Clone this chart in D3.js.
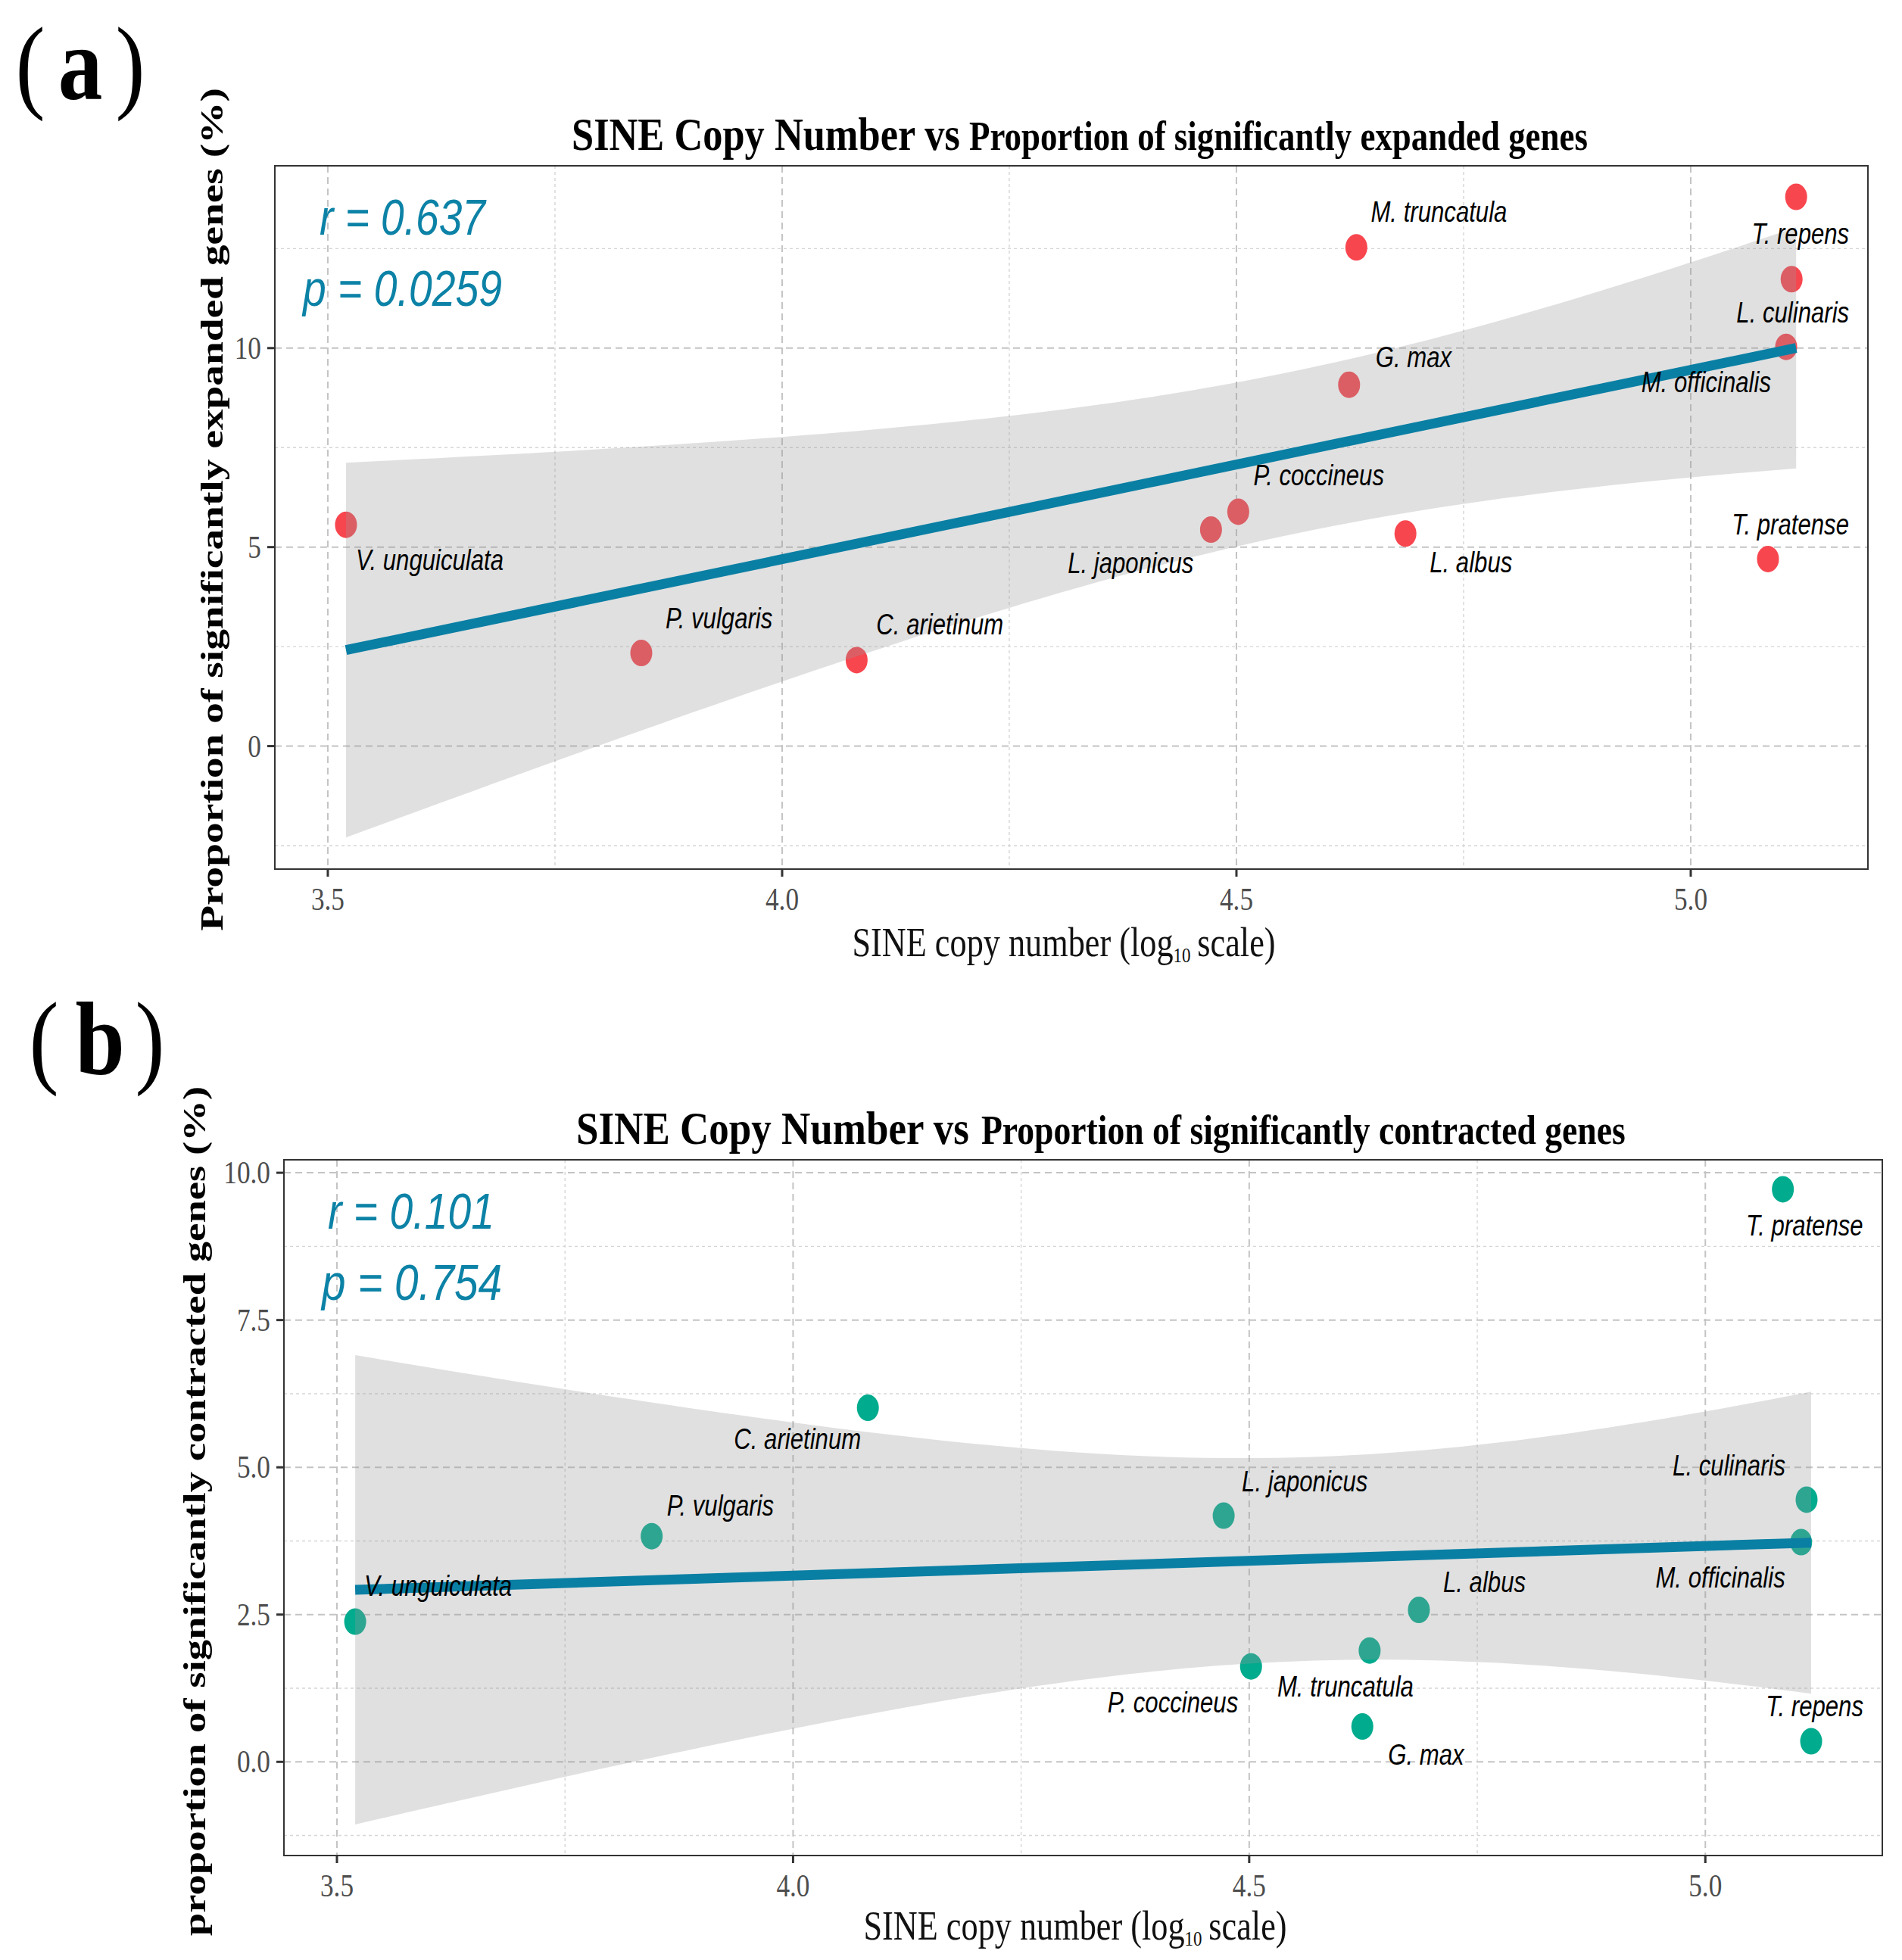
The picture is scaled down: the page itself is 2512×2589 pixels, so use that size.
<!DOCTYPE html>
<html><head><meta charset="utf-8">
<script src="https://cdn.jsdelivr.net/npm/d3@7"></script>
<style>body{margin:0;background:#fff}</style>
</head><body>
<svg id="chart" width="2512" height="2589" xmlns="http://www.w3.org/2000/svg"></svg>
<script>
// ---------------- data ----------------
const species = ["V. unguiculata","P. vulgaris","C. arietinum","L. japonicus","P. coccineus","G. max",
                 "M. truncatula","L. albus","T. pratense","M. officinalis","L. culinaris","T. repens"];
const sineLog10 = [3.520,3.845,4.082,4.472,4.502,4.624,4.632,4.686,5.085,5.105,5.111,5.116];
const expandedPct = [5.56,2.34,2.16,5.44,5.89,9.08,12.53,5.34,4.70,10.03,11.73,13.80];
const contractedPct = [2.38,3.83,6.01,4.18,1.62,0.60,1.89,2.58,9.72,3.73,4.45,0.35];
const xTicks = [3.5,4.0,4.5,5.0];
const xMinorTicks = [3.75,4.25,4.75];
const yTicksA = [0,5,10];
const yMinorA = [-2.5,2.5,7.5,12.5];
const yTicksB = [0,2.5,5,7.5,10];
const yMinorB = [-1.25,1.25,3.75,6.25,8.75];
const statsA = ["r = 0.637","p = 0.0259"];
const statsB = ["r = 0.101","p = 0.754"];
const tCrit = 2.228; // t(0.975, df = 10)

// ---------------- layout (label offsets in px relative to point) ----------------
const labelLayoutA = [
  ["start",13,59.5],["start",32,-33],["start",26,-34],["end",-23,57.5],["start",20,-35],["start",35,-23],
  ["start",19,-33.5],["start",32,51],["end",107,-32],["end",-20,60],["end",76,57],["end",70,62]];
const labelLayoutB = [
  ["start",12,-34],["start",20,-27],["end",-9,54.5],["start",24,-32],["end",-17,61],["start",34,50.5],
  ["start",-122,61],["start",32,-24],["end",106,61],["end",-21,60],["end",-28,-31.5],["end",69,-33]];

const svg = d3.select("#chart");
const SX = 0.82;
const SERIF = "'Liberation Serif','Times New Roman',serif";
const SANS = "'Liberation Sans',Arial,sans-serif";

function fit(xs, ys){
  const n = xs.length, mx = d3.mean(xs), my = d3.mean(ys);
  let sxx=0, sxy=0;
  xs.forEach((x,i)=>{sxx+=(x-mx)*(x-mx); sxy+=(x-mx)*(ys[i]-my);});
  const b = sxy/sxx, a = my - b*mx;
  let sse=0; xs.forEach((x,i)=>{const e=ys[i]-(a+b*x); sse+=e*e;});
  const s = Math.sqrt(sse/(n-2));
  return {a,b,pred:x=>a+b*x,se:x=>s*Math.sqrt(1/n+(x-mx)*(x-mx)/sxx)};
}

// place a text so that its advance width equals target (scaled horizontally)
function fitted(g, x, y, str, target, attrs, pre){
  const t = g.append("text").text(str);
  Object.entries(attrs).forEach(([k,v])=>t.attr(k,v));
  const nat = t.node().getComputedTextLength();
  const k = target/nat;
  t.attr("transform",`translate(${x},${y}) ${pre||""} scale(${k},1)`);
  return t;
}

function panel(cfg){
  const g = svg.append("g");
  const x = d3.scaleLinear().domain(cfg.xDom).range([cfg.left,cfg.right]);
  const y = d3.scaleLinear().domain(cfg.yDom).range([cfg.bottom,cfg.top]);

  // minor grid
  g.selectAll(".vmin").data(xMinorTicks).join("line")
    .attr("x1",d=>x(d)).attr("x2",d=>x(d)).attr("y1",cfg.top).attr("y2",cfg.bottom)
    .attr("stroke","#d6d6d6").attr("stroke-width",1.4).attr("stroke-dasharray","4,4");
  g.selectAll(".hmin").data(cfg.yMinor).join("line")
    .attr("y1",d=>y(d)).attr("y2",d=>y(d)).attr("x1",cfg.left).attr("x2",cfg.right)
    .attr("stroke","#d6d6d6").attr("stroke-width",1.4).attr("stroke-dasharray","4,4");
  // major grid
  g.selectAll(".vmaj").data(xTicks).join("line")
    .attr("x1",d=>x(d)).attr("x2",d=>x(d)).attr("y1",cfg.top).attr("y2",cfg.bottom)
    .attr("stroke","#c4c4c4").attr("stroke-width",2).attr("stroke-dasharray","9,6");
  g.selectAll(".hmaj").data(cfg.yTicks).join("line")
    .attr("y1",d=>y(d)).attr("y2",d=>y(d)).attr("x1",cfg.left).attr("x2",cfg.right)
    .attr("stroke","#c4c4c4").attr("stroke-width",2).attr("stroke-dasharray","9,6");

  // points
  const pts = sineLog10.map((v,i)=>({x:v,y:cfg.values[i],name:species[i],lay:cfg.layout[i]}));
  g.selectAll(".pt").data(pts).join("ellipse")
    .attr("cx",d=>x(d.x)).attr("cy",d=>y(d.y)).attr("rx",14.5).attr("ry",17.5)
    .attr("fill",cfg.color);

  // regression band + line (lm fit with 95% CI, as geom_smooth)
  const f = fit(sineLog10, cfg.values);
  const [xmin,xmax] = d3.extent(sineLog10);
  const grid = d3.range(80).map(i=>xmin+(xmax-xmin)*i/79);
  const band = grid.map(v=>({x:v,lo:f.pred(v)-tCrit*f.se(v),hi:f.pred(v)+tCrit*f.se(v)}));
  g.append("path").datum(band)
    .attr("d",d3.area().x(d=>x(d.x)).y0(d=>y(d.lo)).y1(d=>y(d.hi)))
    .attr("fill","#999999").attr("fill-opacity",0.3);
  g.append("path").datum([xmin,xmax])
    .attr("d",d3.line().x(d=>x(d)).y(d=>y(f.pred(d))))
    .attr("stroke","#0a7fa4").attr("stroke-width",13).attr("fill","none");

  // point labels
  g.selectAll(".lab").data(pts).join("text")
    .attr("transform",d=>`translate(${x(d.x)+d.lay[1]},${y(d.y)+d.lay[2]}) scale(${SX},1)`)
    .attr("text-anchor",d=>d.lay[0])
    .attr("font-family",SANS).attr("font-style","italic").attr("font-size",38)
    .attr("fill","#000").text(d=>d.name);

  // stats
  cfg.stats.forEach((s,i)=>{
    const p = cfg.statPos[i];
    fitted(g, p[0], p[1], s, p[2],
      {"font-family":SANS,"font-style":"italic","font-size":66,"fill":"#0c82a6"});
  });

  // border
  g.append("rect").attr("x",cfg.left).attr("y",cfg.top)
    .attr("width",cfg.right-cfg.left).attr("height",cfg.bottom-cfg.top)
    .attr("fill","none").attr("stroke","#333").attr("stroke-width",2);

  // ticks
  g.selectAll(".xt").data(xTicks).join("line")
    .attr("x1",d=>x(d)).attr("x2",d=>x(d)).attr("y1",cfg.bottom).attr("y2",cfg.bottom+10)
    .attr("stroke","#333").attr("stroke-width",3);
  g.selectAll(".yt").data(cfg.yTicks).join("line")
    .attr("y1",d=>y(d)).attr("y2",d=>y(d)).attr("x1",cfg.left-10).attr("x2",cfg.left)
    .attr("stroke","#333").attr("stroke-width",3);
  g.selectAll(".xtl").data(xTicks).join("text")
    .attr("transform",d=>`translate(${x(d)},${cfg.bottom+54}) scale(${SX},1)`)
    .attr("text-anchor","middle").attr("font-family",SERIF).attr("font-size",43)
    .attr("fill","#4d4d4d").text(d=>d.toFixed(1));
  g.selectAll(".ytl").data(cfg.yTicks).join("text")
    .attr("transform",d=>`translate(${cfg.left-18},${y(d)+14}) scale(${SX},1)`)
    .attr("text-anchor","end").attr("font-family",SERIF).attr("font-size",43)
    .attr("fill","#4d4d4d").text(d=>cfg.yFmt(d));

  // title
  fitted(g, cfg.title[0], cfg.title[1], "SINE Copy Number vs", cfg.title[2],
    {"font-family":SERIF,"font-weight":"bold","font-size":62});
  fitted(g, cfg.title[3], cfg.title[1], cfg.titleText, cfg.title[4],
    {"font-family":SERIF,"font-weight":"bold","font-size":55});

  // x label
  const xl = g.append("text")
    .attr("transform",`translate(${cfg.xlab[0]},${cfg.xlab[1]}) scale(${SX},1)`)
    .attr("text-anchor","middle").attr("font-family",SERIF).attr("font-size",54).attr("fill","#111");
  xl.append("tspan").text("SINE copy number (log");
  xl.append("tspan").attr("font-size",28).attr("dy",8).text("10");
  xl.append("tspan").attr("dy",-8).text("\u2009scale)");

  // y label (rotated, glyphs compressed horizontally like the reference)
  fitted(g, cfg.ylab[0], cfg.ylab[1], cfg.ylabText, cfg.ylab[2],
    {"font-family":SERIF,"font-weight":"bold","font-size":55,"text-anchor":"middle"},
    "scale(0.78,1) rotate(-90)");

  // panel tag
  const tg = cfg.tag;
  g.append("text").attr("transform",`translate(${tg[0]},${tg[3]}) scale(0.85,1)`)
    .attr("text-anchor","middle").attr("font-family",SERIF).attr("font-size",138).text("(");
  g.append("text").attr("transform",`translate(${tg[1]},${tg[3]}) scale(0.85,1)`)
    .attr("text-anchor","middle").attr("font-family",SERIF).attr("font-weight","bold")
    .attr("font-size",138).text(cfg.tagText);
  g.append("text").attr("transform",`translate(${tg[2]},${tg[3]}) scale(0.85,1)`)
    .attr("text-anchor","middle").attr("font-family",SERIF).attr("font-size",138).text(")");
}

panel({
  left:363,right:2467,top:219,bottom:1148,
  xDom:[3.4417,5.195],yDom:[-3.09,14.58],
  yTicks:yTicksA,yMinor:yMinorA,yFmt:d=>String(d),
  values:expandedPct,layout:labelLayoutA,color:"#f8464f",
  stats:statsA,statPos:[[422,310,219],[400,404,263]],
  title:[755,198,513,1280,817],titleText:"Proportion of significantly expanded genes",
  xlab:[1405,1263],ylab:[294,673,1114],ylabText:"Proportion of significantly expanded genes (%)",
  tag:[40,106,172,131],tagText:"a"
});
panel({
  left:375,right:2486,top:1532,bottom:2451,
  xDom:[3.4419,5.194],yDom:[-1.59,10.22],
  yTicks:yTicksB,yMinor:yMinorB,yFmt:d=>d.toFixed(1),
  values:contractedPct,layout:labelLayoutB,color:"#00ab8e",
  stats:statsB,statPos:[[433,1623,220],[425,1717,238]],
  title:[761,1511,519,1296,851],titleText:"Proportion of significantly contracted genes",
  xlab:[1420,2562],ylab:[271,1996,1123],ylabText:"proportion of significantly contracted genes (%)",
  tag:[58,132,198,1419],tagText:"b"
});
</script>
</body></html>
